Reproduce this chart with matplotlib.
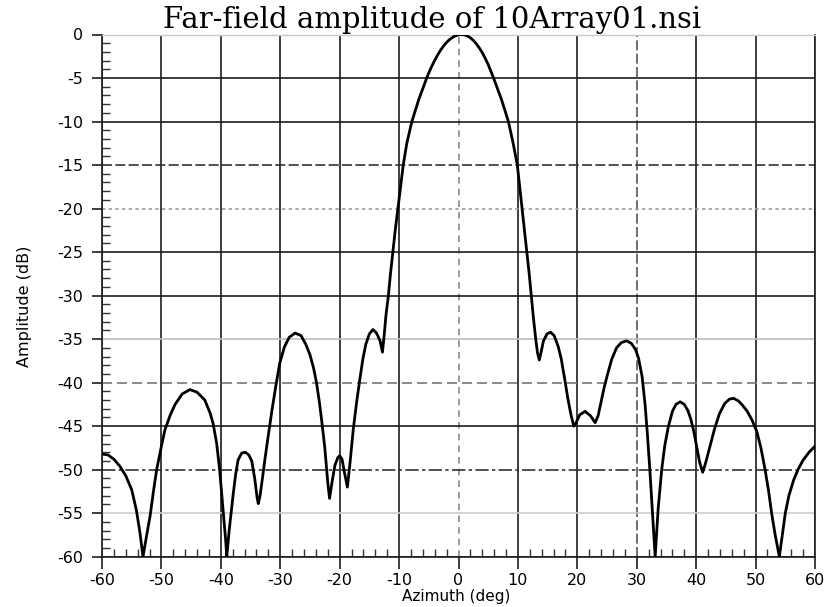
import matplotlib
matplotlib.use("Agg")
import matplotlib.pyplot as plt
from matplotlib.ticker import MultipleLocator

plt.rcParams["axes.unicode_minus"] = False

# ---- data ----
# left side lobes (-60 .. -12.8 deg)
az_left = [
    -60.0, -59.0, -58.0, -57.0, -56.0, -55.0, -54.2, -53.6, -53.1,
    -52.5, -51.9, -51.3, -50.8, -50.0, -49.4, -48.5, -47.7, -46.5, -45.2,
    -44.0, -42.7, -41.8, -41.3, -40.7, -40.2, -39.7, -39.2, -39.0,
    -38.6, -38.2, -37.9, -37.5, -37.1, -36.5, -35.9, -35.3, -34.8, -34.3,
    -33.9, -33.7, -33.4, -33.0, -32.6, -32.0, -31.4, -30.7, -30.1, -29.3,
    -28.5, -27.5, -26.5, -25.7, -25.0, -24.4, -23.9, -23.4, -23.0, -22.5,
    -22.0, -21.7, -21.3, -20.8, -20.3, -20.0, -19.6, -19.2, -18.7, -18.3,
    -17.7, -17.1, -16.6, -16.1, -15.6, -15.0, -14.4, -13.8, -13.2, -12.8,
]
db_left = [
    -48.2, -48.3, -48.8, -49.6, -50.7, -52.3, -54.7, -57.3, -60.0,
    -57.6, -55.3, -52.3, -50.0, -47.3, -45.4, -43.7, -42.5, -41.3, -40.8,
    -41.1, -42.0, -43.5, -44.7, -47.0, -50.0, -54.0, -58.0, -60.0,
    -57.0, -54.5, -52.7, -50.5, -48.9, -48.1, -48.0, -48.3, -49.0, -51.0,
    -53.2, -53.9, -53.0, -51.0, -48.9, -46.0, -43.2, -40.2, -37.8, -35.9,
    -34.8, -34.3, -34.6, -35.6, -36.8, -38.3, -40.0, -42.3, -44.5, -47.5,
    -51.5, -53.3, -51.5, -49.5, -48.6, -48.4, -48.8, -50.3, -52.0, -49.5,
    -45.3, -42.0, -39.6, -37.3, -35.6, -34.4, -33.9, -34.3, -35.2, -36.5,
]
# main lobe (-12.5 .. 13 deg)
az_main = [
    -12.5, -12.2, -11.8, -11.45, -11.05, -10.65, -10.2, -9.75, -9.3, -8.7,
    -7.85, -6.7, -5.35, -5.0, -4.5, -4.0, -3.5, -3.0, -2.5, -2.0,
    -1.5, -1.0, -0.5, 0.0, 0.5, 1.0, 1.5, 2.0, 2.5, 3.0,
    3.5, 4.0, 4.5, 5.0, 5.5, 5.9, 7.25, 8.4, 9.2, 9.9,
    10.3, 10.7, 11.1, 11.5, 11.9, 12.25, 12.6, 13.0,
]
db_main = [
    -34.5, -32.2, -30.0, -27.5, -25.0, -22.5, -20.0, -17.5, -15.0, -12.5,
    -10.0, -7.5, -5.0, -4.4, -3.65, -2.96, -2.34, -1.78, -1.31, -0.9,
    -0.58, -0.33, -0.15, -0.04, 0.0, -0.04, -0.17, -0.38, -0.68, -1.07,
    -1.54, -2.09, -2.74, -3.46, -4.3, -5.0, -7.5, -10.0, -12.5, -15.0,
    -17.5, -20.0, -22.5, -25.0, -27.5, -30.0, -32.5, -35.0,
]
# right side lobes (13.3 .. 60 deg)
az_right = [
    13.3, 13.6, 13.9, 14.3, 14.9, 15.5, 16.1, 16.8, 17.3, 17.9, 18.4,
    18.9, 19.4, 19.8, 20.4, 21.3, 22.2, 23.0, 23.5, 24.0, 24.5, 25.1,
    25.8, 26.6, 27.4, 28.3, 29.1, 29.8, 30.3, 30.9, 31.4, 31.8, 32.2,
    32.6, 33.1, 33.6, 34.2, 34.7, 35.3, 36.0, 36.6, 37.3, 38.0, 38.6,
    39.1, 39.6, 40.1, 40.6, 41.1, 41.6, 42.3, 43.1, 43.9, 44.8, 45.6,
    46.3, 47.1, 47.8, 48.6, 49.4, 50.2, 50.9, 51.6, 52.2, 52.7, 53.3,
    54.0, 54.5, 55.0, 55.6, 56.4, 57.2, 58.0, 59.0, 60.0,
]
db_right = [
    -36.6, -37.4, -36.5, -35.2, -34.4, -34.2, -34.6, -35.9, -37.3, -39.7, -41.8,
    -43.6, -45.0, -44.6, -43.7, -43.3, -43.8, -44.6, -43.8, -42.2, -40.6, -39.0,
    -37.3, -36.0, -35.4, -35.2, -35.5, -36.2, -37.2, -39.3, -42.5, -46.0, -50.0,
    -54.5, -60.0, -54.5, -50.0, -47.3, -45.1, -43.3, -42.5, -42.2, -42.5, -43.2,
    -44.2, -45.6, -47.4, -49.2, -50.3, -49.2, -47.4, -45.3, -43.6, -42.4, -41.9,
    -41.8, -42.1, -42.6, -43.3, -44.3, -45.6, -47.5, -50.0, -52.5, -55.0, -57.5,
    -60.0, -57.5, -55.0, -53.0, -51.2, -49.9, -48.9, -48.0, -47.3,
]
x_ticks = [-60, -50, -40, -30, -20, -10, 0, 10, 20, 30, 40, 50, 60]
y_ticks = [0, -5, -10, -15, -20, -25, -30, -35, -40, -45, -50, -55, -60]
title = "Far-field amplitude of 10Array01.nsi"
x_label = "Azimuth (deg)"
y_label = "Amplitude (dB)"

azimuth = az_left + az_main + az_right
amplitude_db = db_left + db_main + db_right

# ---- figure ----
fig = plt.figure(figsize=(8.25, 6.07), dpi=100)
ax = fig.add_axes([102/825, 1 - 556.7/607, 713/825, 522.2/607])

ax.plot(azimuth, amplitude_db, color="black", lw=2.0, zorder=3,
        solid_joinstyle="round")

ax.set_xlim(-60, 60)
ax.set_ylim(-60, 0)
ax.set_xticks(x_ticks)
ax.set_yticks(y_ticks)
ax.xaxis.set_minor_locator(MultipleLocator(2))
ax.yaxis.set_minor_locator(MultipleLocator(1))

ax.grid(True, which="major", color="#1c1c1c", lw=1.2, zorder=1)

# individual grid line styles (scanned look)
ystyles = {0: ("#c8c8c8", "-"), -15: ("#333333", (0, (6, 2))),
           -20: ("#9a9a9a", (0, (2, 2))), -35: ("#bdbdbd", "-"),
           -40: ("#777777", (0, (6, 3))), -50: ("#333333", (0, (8, 2, 2, 2))),
           -55: ("#cccccc", "-")}
for val, gl in zip(y_ticks, ax.get_ygridlines()):
    if val in ystyles:
        c, ls = ystyles[val]
        gl.set_color(c)
        gl.set_linestyle(ls)
xstyles = {0: ("#8a8a8a", (0, (4, 3))), 30: ("#555555", (0, (6, 2)))}
for val, gl in zip(x_ticks, ax.get_xgridlines()):
    if val in xstyles:
        c, ls = xstyles[val]
        gl.set_color(c)
        gl.set_linestyle(ls)

for side in ["left", "bottom", "right"]:
    ax.spines[side].set_color("#1c1c1c")
    ax.spines[side].set_linewidth(1.2)
ax.spines["top"].set_color("#c8c8c8")
ax.spines["top"].set_linewidth(1.0)

ax.tick_params(axis="y", which="major", direction="out", length=7.5,
               width=1.2, color="#1c1c1c", pad=6, labelsize=11.5)
ax.tick_params(axis="x", which="major", direction="out", length=8.5,
               width=1.2, color="#1c1c1c", pad=3.0, labelsize=11.5)
ax.tick_params(which="minor", direction="in", length=5.8, width=1.0,
               color="#333333")
ax.tick_params(axis="x", which="minor", top=False)
ax.tick_params(axis="y", which="minor", right=False)

for lab in ax.get_xticklabels() + ax.get_yticklabels():
    lab.set_family("DejaVu Sans")

ax.set_title(title, family="DejaVu Serif", fontsize=21, pad=3,
             x=(432 - 102) / 713)
ax.set_xlabel(x_label, family="DejaVu Sans", fontsize=11, va="baseline")
ax.xaxis.set_label_coords((456 - 102) / 713, (556.7 - 601.5) / 522.2)
ax.set_ylabel(y_label, family="DejaVu Sans", fontsize=11.5)
ax.yaxis.set_label_coords(-0.098, 0.48)

fig.savefig("out.png", dpi=100)
